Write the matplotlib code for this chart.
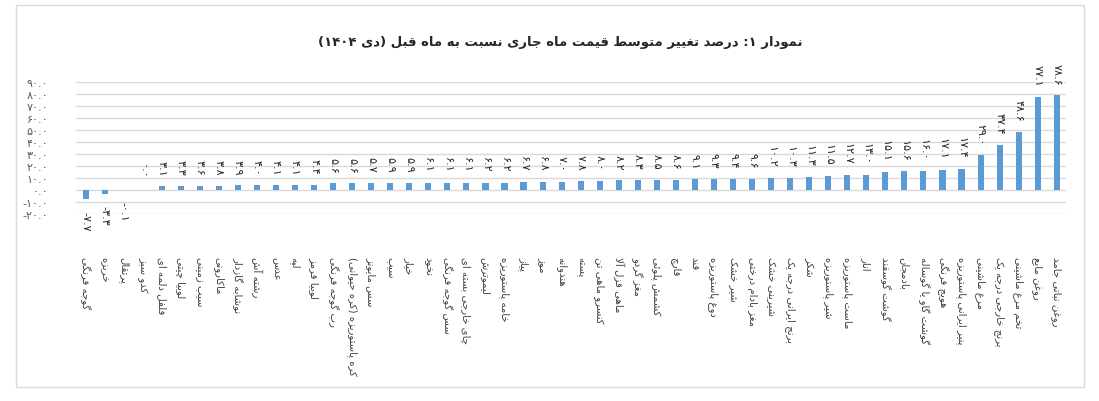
import re
import matplotlib
matplotlib.use("Agg")
import matplotlib.pyplot as plt
from matplotlib.patches import Rectangle

plt.rcParams['font.family'] = ['DejaVu Sans']

# ---- data ----
title = "نمودار ۱: درصد تغییر متوسط قیمت ماه جاری نسبت به ماه قبل (دی ۱۴۰۴)"

categories = [
    "گوجه فرنگی", "خربزه", "پرتقال", "کدو سبز", "فلفل دلمه ای", "لوبیا چیتی",
    "سیب زمینی", "ماکارونی", "نوشابه گازدار", "رشته آش", "عدس", "لپه",
    "لوبیا قرمز", "رب گوجه فرنگی", "کره پاستوریزه (کره حیوانی)", "سس مایونز",
    "سیب", "خیار", "نخود", "سس گوجه فرنگی", "چای خارجی بسته ای", "لیموترش",
    "خامه پاستوریزه", "پیاز", "موز", "هندوانه", "پسته", "کنسرو ماهی تن",
    "ماهی قزل آلا", "مغز گردو", "کشمش پلوئی", "قارچ", "قند", "دوغ پاستوریزه",
    "شیر خشک", "مغز بادام درختی", "شیرینی خشک", "برنج ایرانی درجه یک", "شکر",
    "شیر پاستوریزه", "ماست پاستوریزه", "انار", "گوشت گوسفند", "بادمجان",
    "گوشت گاو یا گوساله", "هویج فرنگی", "پنیر ایرانی پاستوریزه", "مرغ ماشینی",
    "برنج خارجی درجه یک", "تخم مرغ ماشینی", "روغن مایع", "روغن نباتی جامد",
]

values = [
    -7.7, -3.3, -0.1, 0.0, 3.1, 3.3, 3.6, 3.8, 3.9, 4.0, 4.1, 4.1, 4.4,
    5.6, 5.6, 5.7, 5.9, 5.9, 6.1, 6.1, 6.1, 6.2, 6.2, 6.7, 6.8, 7.0, 7.8,
    8.0, 8.2, 8.3, 8.5, 8.6, 9.1, 9.3, 9.4, 9.6, 10.2, 10.3, 11.3, 11.5,
    12.7, 13.0, 15.1, 15.6, 16.0, 17.1, 17.4, 29.0, 37.4, 48.6, 77.1, 78.6,
]

y_ticks = [-20, -10, 0, 10, 20, 30, 40, 50, 60, 70, 80, 90]

# ---- minimal persian shaping (matplotlib has no RTL / joining) ----
DUAL = {'ب': 0xFE8F, 'ت': 0xFE95, 'ث': 0xFE99, 'ج': 0xFE9D, 'ح': 0xFEA1,
        'خ': 0xFEA5, 'س': 0xFEB1, 'ش': 0xFEB5, 'ص': 0xFEB9, 'ض': 0xFEBD,
        'ط': 0xFEC1, 'ظ': 0xFEC5, 'ع': 0xFEC9, 'غ': 0xFECD, 'ف': 0xFED1,
        'ق': 0xFED5, 'ل': 0xFEDD, 'م': 0xFEE1, 'ن': 0xFEE5, 'ه': 0xFEE9,
        'ئ': 0xFE89, 'پ': 0xFB56, 'چ': 0xFB7A, 'ک': 0xFB8E, 'گ': 0xFB92,
        'ی': 0xFBFC}
RIGHT = {'ا': 0xFE8D, 'آ': 0xFE81, 'د': 0xFEA9, 'ذ': 0xFEAB, 'ر': 0xFEAD,
         'ز': 0xFEAF, 'و': 0xFEED, 'ژ': 0xFB8A}
LAMALEF = {'ا': 0xFEFB, 'آ': 0xFEF5}


def shape(s):
    out = []
    i = 0
    while i < len(s):
        ch = s[i]
        prev = s[i - 1] if i > 0 else ''
        nxt = s[i + 1] if i + 1 < len(s) else ''
        jp = prev in DUAL and (ch in DUAL or ch in RIGHT)
        if ch == 'ل' and nxt in LAMALEF:
            out.append(chr(LAMALEF[nxt] + (1 if jp else 0)))
            i += 2
            continue
        if ch in DUAL:
            jn = nxt in DUAL or nxt in RIGHT
            off = 3 if (jp and jn) else 2 if jn else 1 if jp else 0
            out.append(chr(DUAL[ch] + off))
        elif ch in RIGHT:
            out.append(chr(RIGHT[ch] + (1 if jp else 0)))
        else:
            out.append(ch)
        i += 1
    return ''.join(out)


def fa(s):
    vis = shape(s)[::-1].translate(str.maketrans('()', ')('))
    return re.sub(r'[۰-۹0-9.]+', lambda m: m.group(0)[::-1], vis)


def fa_num(v):
    return f"{v:.1f}".translate(str.maketrans('0123456789', '۰۱۲۳۴۵۶۷۸۹'))


# ---- plot ----
fig = plt.figure(figsize=(10.99, 4.02), dpi=100)
ax = fig.add_axes([0.0692, 0.4644, 0.901, 0.33])

x = range(len(values))
bars = ax.bar(x, values, width=0.32, color='#5B9BD5', zorder=3)

for xi, v in zip(x, values):
    off = 8 if v >= 0 else -8
    ax.annotate(fa_num(v), (xi, v), xytext=(0, off), textcoords='offset points',
                rotation=270, ha='center', va='bottom' if v >= 0 else 'top',
                fontsize=8, color='#262626', annotation_clip=False)

ax.set_xlim(-0.5, len(values) - 0.5)
ax.set_ylim(-20, 90)
ax.set_yticks(y_ticks)
ax.set_yticklabels([fa_num(t) for t in y_ticks], fontsize=8, color='#595959')
ax.set_xticks(list(x))
ax.set_xticklabels([fa(c) for c in categories], rotation=270, fontsize=7.3,
                   color='#404040')
ax.tick_params(axis='x', length=0, pad=30)
ax.tick_params(axis='y', length=0, pad=20)
ax.grid(axis='y', color='#D9D9D9', lw=1.0)
ax.set_axisbelow(True)
for sp in ax.spines.values():
    sp.set_visible(False)

fig.text(0.51, 0.895, fa(title), ha='center', va='center', fontsize=9.5,
         fontweight='bold', color='#262626')

fig.patches.append(Rectangle((16 / 1099, 1 - 388 / 402), 1068 / 1099, 382 / 402,
                             transform=fig.transFigure, fill=False,
                             ec='#D9D9D9', lw=1.0))

fig.savefig('out.png', dpi=100)
